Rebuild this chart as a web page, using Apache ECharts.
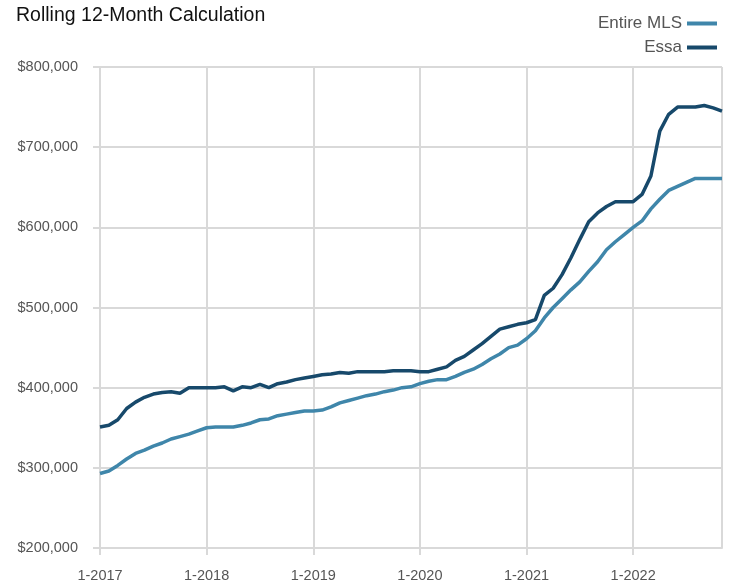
<!DOCTYPE html>
<html>
<head>
<meta charset="utf-8">
<script src="https://cdn.jsdelivr.net/npm/echarts@6/dist/echarts.min.js"></script>
<style>
html,body{margin:0;padding:0;background:#fff;}
#c{width:732px;height:583px;}
</style>
</head>
<body>
<div id="c"></div>
<script>
const years = [2017, 2018, 2019, 2020, 2021, 2022];
const lastMonth2022 = 11;
const categories = [];
years.forEach(y => {
  const n = y === 2022 ? lastMonth2022 : 12;
  for (let m = 1; m <= n; m++) categories.push(m + '-' + y);
});

const entireMLS = [
  293, 296, 303, 311, 318, 322, 327, 331, 336, 339, 342, 346,
  350, 351, 351, 351, 353, 356, 360, 361, 365, 367, 369, 371,
  371, 372, 376, 381, 384, 387, 390, 392, 395, 397, 400, 401,
  405, 408, 410, 410, 414, 419, 423, 429, 436, 442, 450, 453,
  461, 471, 487, 500, 511, 522, 532, 545, 557, 572, 582, 591,
  600, 608, 623, 635, 646, 651, 656, 661, 661, 661, 661
].map(v => v * 1000);

const essa = [
  351, 353, 360, 374, 382, 388, 392, 394, 395, 393, 400, 400,
  400, 400, 401, 396, 401, 400, 404, 400, 405, 407, 410, 412,
  414, 416, 417, 419, 418, 420, 420, 420, 420, 421, 421, 421,
  420, 420, 423, 426, 434, 439, 447, 455, 464, 473, 476, 479,
  481, 485, 515, 524, 541, 562, 585, 607, 618, 626, 632, 632,
  632, 641, 664, 720, 741, 750, 750, 750, 752, 749, 745
].map(v => v * 1000);

const yTicks = [200000, 300000, 400000, 500000, 600000, 700000, 800000];

const FONT = '"Liberation Sans", Arial, sans-serif';
const chart = echarts.init(document.getElementById('c'), null, {renderer: 'canvas'});
chart.setOption({
  animation: false,
  backgroundColor: '#ffffff',
  title: {
    text: 'Rolling 12-Month Calculation',
    left: 11, top: 1,
    textStyle: {fontFamily: FONT, fontSize: 19.5, fontWeight: 'normal', color: '#111'}
  },
  legend: {
    orient: 'vertical',
    right: 10, top: 10,
    align: 'right',
    itemWidth: 30, itemHeight: 4, itemGap: 7,
    icon: 'rect',
    textStyle: {fontFamily: FONT, fontSize: 17, color: '#555'},
    data: ['Entire MLS', 'Essa']
  },
  grid: {left: 100, right: 10, top: 67, bottom: 34, containLabel: false},
  xAxis: {
    type: 'category',
    boundaryGap: false,
    data: categories,
    axisLine: {show: true, lineStyle: {color: '#d9d9d9', width: 2}},
    axisTick: {show: true, length: 7, interval: (i) => i % 12 === 0, lineStyle: {color: '#d9d9d9', width: 2}},
    axisLabel: {interval: (i) => i % 12 === 0, fontFamily: FONT, fontSize: 14.5, color: '#555', margin: 20},
    splitLine: {show: true, interval: (i) => i % 12 === 0 || i === categories.length - 1, lineStyle: {color: '#d9d9d9', width: 2}}
  },
  yAxis: {
    type: 'value',
    min: yTicks[0], max: yTicks[yTicks.length - 1], interval: 100000,
    axisLine: {show: false},
    axisTick: {show: true, length: 7, lineStyle: {color: '#d9d9d9', width: 2}},
    axisLabel: {fontFamily: FONT, fontSize: 14.5, color: '#555', margin: 22,
      formatter: v => '$' + v.toLocaleString('en-US')},
    splitLine: {show: true, lineStyle: {color: '#d9d9d9', width: 2}}
  },
  series: [
    {name: 'Entire MLS', type: 'line', data: entireMLS, showSymbol: false, symbol: 'none',
     lineStyle: {color: '#3f86aa', width: 3.5}, itemStyle: {color: '#3f86aa'}},
    {name: 'Essa', type: 'line', data: essa, showSymbol: false, symbol: 'none',
     lineStyle: {color: '#17496b', width: 3.5}, itemStyle: {color: '#17496b'}}
  ]
});
</script>
</body>
</html>
